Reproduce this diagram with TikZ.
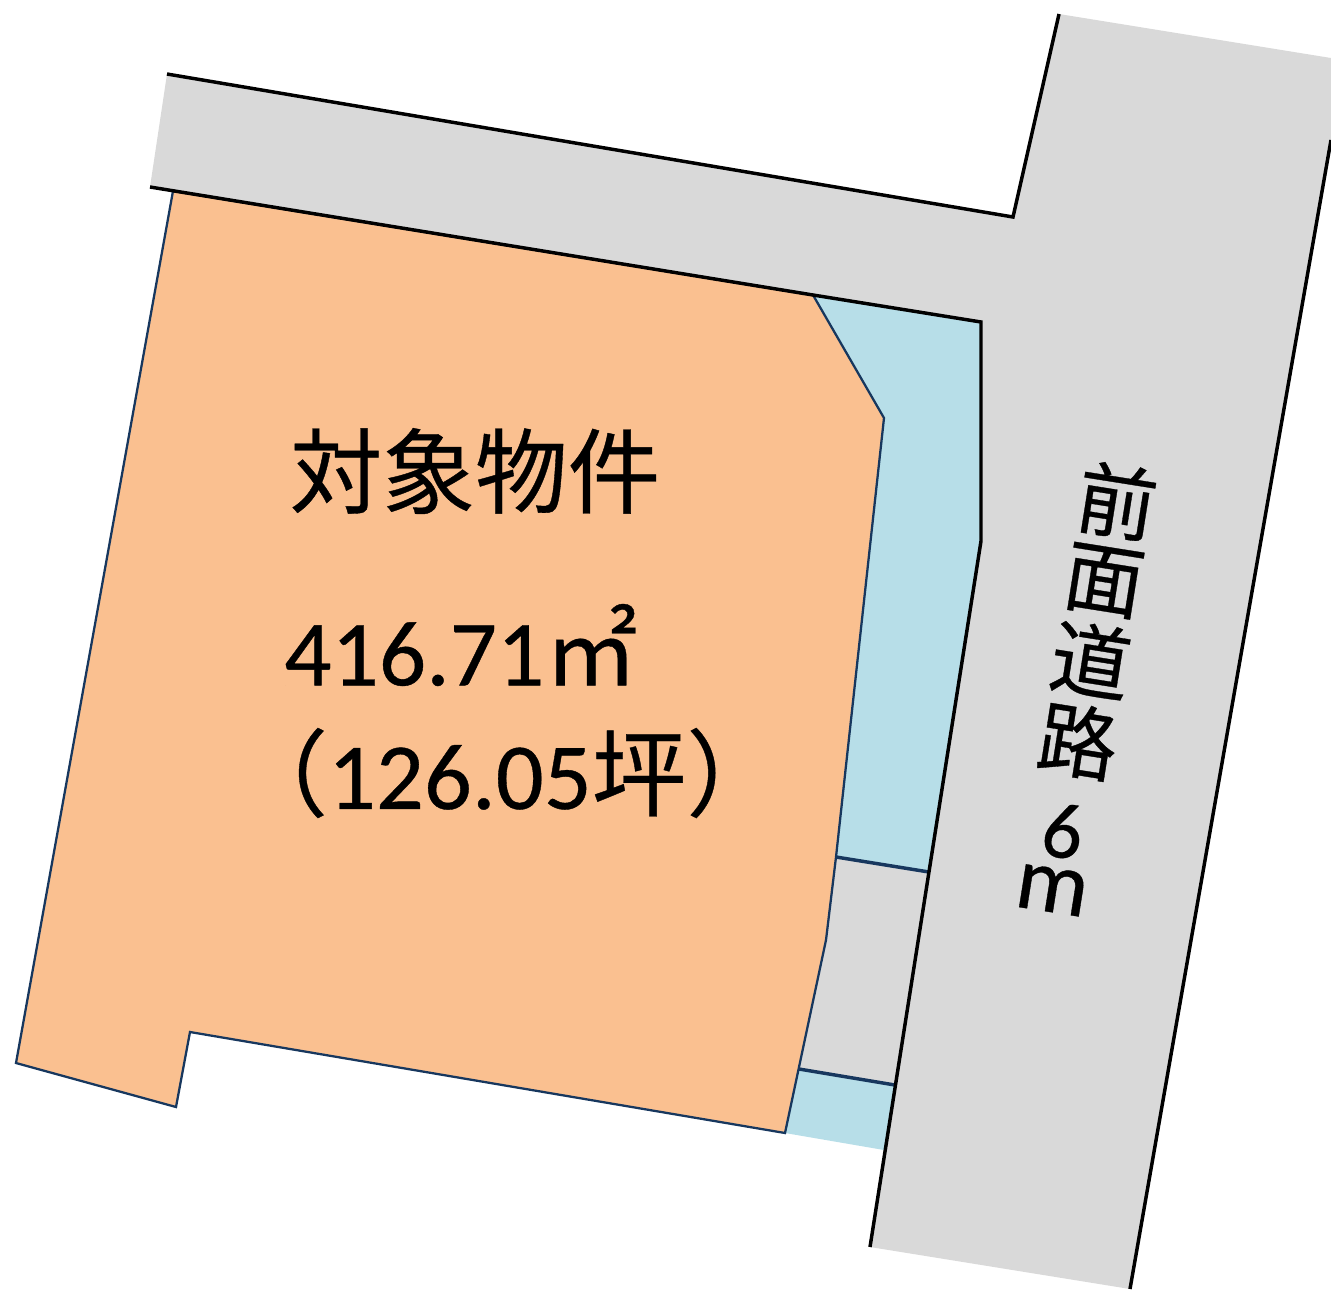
\documentclass[tikz,border=0pt]{standalone}
\usepackage{fontspec}
\setmainfont{Carlito}[FakeBold=0.4]
\newfontfamily\cjk{Noto Sans CJK JP}[FakeBold=0.4]
\definecolor{roadgray}{HTML}{D9D9D9}
\definecolor{lotorange}{HTML}{FAC090}
\definecolor{waterblue}{HTML}{B7DEE8}
\definecolor{navyline}{HTML}{17375E}
\tikzset{
  roadfill/.style={fill=roadgray,draw=none},
  waterfill/.style={fill=waterblue,draw=none},
  edgeblack/.style={draw=black,line width=2.6pt,line join=miter},
  edgenavy/.style={draw=navyline,line width=1.7pt},
  sepnavy/.style={draw=navyline,line width=2.6pt},
  lbl/.style={inner sep=0pt,anchor=center,text=black},
  roadchar/.style={lbl,rotate=-9,font=\fontsize{60}{60}\selectfont\cjk},
}
\begin{document}
\begin{tikzpicture}[x=1pt,y=-1pt,xscale=0.75,yscale=0.75]
\useasboundingbox (0,0) rectangle (1331,1289);
% road
\fill[roadfill] (167,74) -- (1013,217) -- (1059,14) -- (1331,58) -- (1331,140) -- (1130,1289) -- (870,1247) -- (981,541) -- (981,322) -- (813,295) -- (150,187) -- cycle;
% gray apron between the blue strips
\fill[roadfill] (836,857) -- (929,872) -- (895,1085) -- (799,1069) -- (826,940) -- cycle;
% blue strip
\fill[waterfill] (813,295) -- (981,322) -- (981,541) -- (929,872) -- (836,857) -- (884,418) -- cycle;
\fill[waterfill] (799,1069) -- (895,1085) -- (884,1150) -- (785,1133) -- cycle;
% lot
\filldraw[fill=lotorange,edgenavy] (173,191) -- (813,295) -- (884,418) -- (836,857) -- (826,940) -- (785,1133) -- (190,1032) -- (176,1107) -- (16,1063) -- cycle;
% edges
\draw[sepnavy] (836,857) -- (929,872);
\draw[sepnavy] (799,1069) -- (895,1085);
\draw[edgeblack] (167,74) -- (1013,217) -- (1059,14);
\draw[edgeblack] (150,187) -- (813,295) -- (981,322) -- (981,541) -- (870,1247);
\draw[edgeblack] (1331,140) -- (1130,1289);
% text
\node[lbl] (title) at (475,471) {\fontsize{69.5}{70}\selectfont\cjk 対象物件};
\node[lbl,anchor=west] (area) at (284,645) {\fontsize{70}{70}\selectfont 416.71\cjk ㎡};
\node[lbl,anchor=west] (tsubo) at (233,773) {\fontsize{71}{71}\selectfont{\cjk （}126.05{\cjk 坪）}};
\node[roadchar] (c1) at (1117,501) {前};
\node[roadchar] (c2) at (1104,581) {面};
\node[roadchar] (c3) at (1091,660) {道};
\node[roadchar] (c4) at (1078,741) {路};
\node[lbl,rotate=-9,font=\fontsize{60}{60}\selectfont] (six) at (1063,831) {6};
\node[lbl,rotate=-9,font=\fontsize{68}{68}\selectfont] (m) at (1052,890) {m};
\end{tikzpicture}
\end{document}
